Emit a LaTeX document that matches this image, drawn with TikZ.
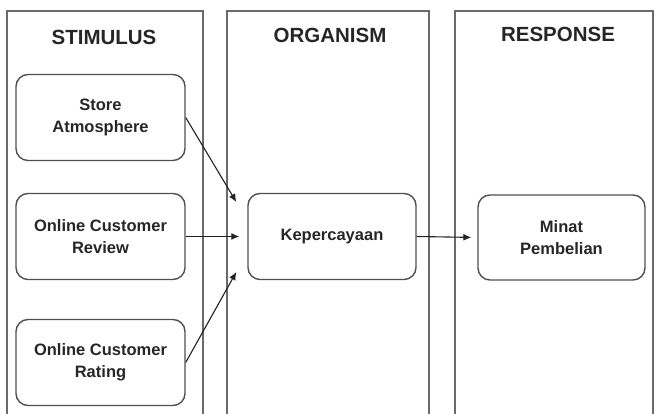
\documentclass[tikz,border=0pt]{standalone}
\usepackage{fontspec}
\setmainfont{Liberation Sans}
\usepackage{xcolor}
\usetikzlibrary{shapes.geometric, arrows.meta, positioning, calc}

\definecolor{colgray}{HTML}{6A6A6A}
\definecolor{boxgray}{HTML}{505050}
\definecolor{arrowgray}{HTML}{222222}

\tikzset{
    colline/.style={draw=colgray, line width=1.4pt},
    coltitle/.style={font=\fontsize{20.5}{24}\selectfont\bfseries, text=black!85},
    varbox/.style={draw=boxgray, line width=1.4pt, rounded corners=12pt,
        minimum width=169pt, minimum height=86pt, align=center,
        font=\fontsize{16.5}{22}\selectfont\bfseries, text=black!85},
    flow/.style={draw=arrowgray, line width=1.1pt, -{Latex[length=8pt,width=7pt]}}
}

\begin{document}
\begin{tikzpicture}[x=1pt, y=1pt]
\useasboundingbox (0,0) rectangle (654,414);

% Columns (open at the bottom)
\foreach \xl/\xr in {7/203, 227/429, 455/653} {
    \draw[colline] (\xl,0) -- (\xl,403) -- (\xr,403) -- (\xr,0);
}

% Column titles
\node[coltitle] (stimulus) at (104,377) {STIMULUS};
\node[coltitle] (organism) at (330,379) {ORGANISM};
\node[coltitle] (response) at (558,379.5) {RESPONSE};

% Stimulus variables
\node[varbox] (sa) at (100.5,296.5) {Store\\Atmosphere};
\node[varbox] (ocr) at (100.5,177.5) {Online Customer\\Review};
\node[varbox] (ocrt) at (100.5,51.5) {Online Customer\\Rating};

% Organism and response
\node[varbox, minimum width=168pt] (kep) at (332,177.5) {Kepercayaan};
\node[varbox, minimum width=167pt, minimum height=85pt] (minat) at (561.5,176.5) {Minat\\Pembelian};

% Arrow ends in front of Kepercayaan
\coordinate (inTop) at ($(kep.west)+(-11,34.5)$);
\coordinate (inMid) at ($(kep.west)+(-8,0)$);
\coordinate (inBot) at ($(kep.west)+(-11,-35.5)$);

% Connections
\draw[flow] (sa.east) -- (inTop);
\draw[flow] (ocr.east) -- (inMid);
\draw[flow] (ocrt.east) -- (inBot);
\draw[flow, shorten >=6pt] (kep.east) -- (minat.west);
\end{tikzpicture}
\end{document}
